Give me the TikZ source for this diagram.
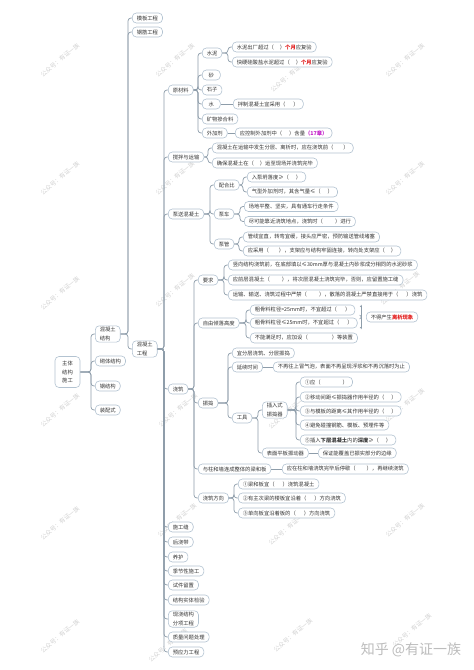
\documentclass[tikz,border=0pt]{standalone}
\usepackage{fontspec}
\setmainfont{Noto Sans CJK SC}
\usetikzlibrary{decorations.pathreplacing}
\definecolor{lineC}{HTML}{8E9DAA}
\definecolor{boxC}{HTML}{B3C3D1}
\definecolor{txtC}{HTML}{333333}
\definecolor{redC}{HTML}{E21C1C}
\definecolor{magC}{HTML}{C21BC8}
\definecolor{wmC}{HTML}{D2D2D2}
\newcommand{\gapx}[1][6pt]{\hspace{#1}}
\newcommand{\mlink}[2]{\draw[conn] (#1.east) -| ([xshift=-4pt]#2.west) -- (#2.west);}
\newcommand{\slink}[2]{\draw[conn] (#1.east) -- (#2.west);}
\tikzset{
  box/.style={draw=boxC, line width=0.6pt, fill=white, rounded corners=4pt, inner xsep=4.5pt, inner ysep=1.5pt, minimum height=10pt, minimum width=18pt, text=txtC, font=\fontsize{5.3}{8.5}\selectfont, anchor=west},
  conn/.style={draw=lineC, line width=0.7pt, rounded corners=3pt},
  wm/.style={text=wmC, font=\fontsize{6}{7}\selectfont, rotate=40},
}
\begin{document}
\begin{tikzpicture}[x=1pt,y=-1pt]
\useasboundingbox (0,0) rectangle (474,670);
\fill[white] (0,0) rectangle (474,670);

% watermarks
\foreach \wx/\wy in {60/60,175/60,290/75,405/60,
                     60/178,175/178,405/178,
                     60/293,175/290,400/288,
                     60/410,178/410,288/412,405/405,
                     60/523,177/520,288/528,405/520,
                     60/636,168/645,293/635,412/630}{\node[wm] (wm-\wx-\wy) at (\wx,\wy) {公众号：有证一族};}
\node[text=wmC!90!black, font=\fontsize{14}{16}\selectfont] (zhihu) at (411,650) {知乎 @有证一族};

% level 0/1
\node[box,anchor=center,align=center,minimum width=25pt,minimum height=31pt] (root) at (67.5,372) {主体\\结构\\施工};
\node[box,align=left] (hnjg) at (95,334) {混凝土\\结构};
\node[box] (qt) at (95,361) {砌体结构};
\node[box] (gjg) at (95,386) {钢结构};
\node[box] (zps) at (95,410) {装配式};

\node[box] (mb) at (132,18) {模板工程};
\node[box] (gj) at (132,32) {钢筋工程};
\node[box,align=left] (hngc) at (132,349) {混凝土\\工程};

\node[box] (ycl) at (168,90) {原材料};
\node[box] (jb) at (168,157) {搅拌与运输};
\node[box] (bs) at (168,214) {泵送混凝土};
\node[box] (jz) at (168,389) {浇筑};
\node[box] (sgf) at (168,527) {施工缝};
\node[box] (hjd) at (168,542) {后浇带};
\node[box] (yh) at (168,557) {养护};
\node[box] (jjx) at (168,571) {季节性施工};
\node[box] (sjlz) at (168,585) {试件留置};
\node[box] (jgst) at (168,600) {结构实体检验};
\node[box,align=left] (xjjg) at (168,619) {现浇结构\\分项工程};
\node[box] (zlwt) at (168,637) {质量问题处理};
\node[box] (yyl) at (168,652) {预应力工程};

% 原材料
\node[box] (sn) at (202,53) {水泥};
\node[box] (sha) at (202,75) {砂};
\node[box] (sz) at (202,90) {石子};
\node[box] (shui) at (202,104) {水};
\node[box] (kw) at (202,119) {矿物掺合料};
\node[box] (wjj) at (202,133) {外加剂};
\node[box] (sn1) at (232,47) {水泥出厂超过（\gapx）\textcolor{redC}{\textbf{个月}}应复验};
\node[box] (sn2) at (232,62) {快硬硅酸盐水泥超过（\gapx）\textcolor{redC}{\textbf{个月}}应复验};
\node[box] (shui1) at (233,104) {拌制混凝土宜采用（\gapx[8pt]）};
\node[box] (wjj1) at (235,133) {应控制外加剂中（\gapx[7pt]）含量\textcolor{magC}{\textbf{（17章）}}};

% 搅拌与运输
\node[box] (jb1) at (212,148) {混凝土在运输中发生分层、离析时，应在浇筑前（\gapx[10pt]）};
\node[box] (jb2) at (212,163) {确保混凝土在（\gapx）运至现场并浇筑完毕};

% 泵送混凝土
\node[box] (phb) at (214,185) {配合比};
\node[box] (bc) at (214,214) {泵车};
\node[box] (bg) at (214,244) {泵管};
\node[box] (phb1) at (247,177) {入泵坍落度≥（\gapx[7pt]）};
\node[box] (phb2) at (247,192) {气型外加剂时，其含气量≤（\gapx[7pt]）};
\node[box] (bc1) at (244,206.5) {场地平整、坚实，具有通车行走条件};
\node[box] (bc2) at (244,221.5) {尽可能靠近浇筑地点，浇筑时（\gapx[12pt]）进行};
\node[box] (bg1) at (243,237) {管线宜直，转弯宜缓，接头应严密，预防输送管线堵塞};
\node[box] (bg2) at (243,251) {应采用（\gapx[10pt]），支架应与结构牢固连接，转向处支架应（\gapx）};

% 浇筑
\node[box] (yq) at (198,280) {要求};
\node[box] (zy) at (198,323) {自由倾落高度};
\node[box] (zd) at (198,403) {振捣};
\node[box] (yzh) at (198,469) {与柱和墙连成整体的梁和板};
\node[box] (jzfx) at (198,498) {浇筑方向};

\node[box] (yq1) at (228,265) {竖向结构浇筑前，在底部填以≤30mm厚与混凝土内砂浆成分相同的水泥砂浆};
\node[box] (yq2) at (228,280) {应前层混凝土（\gapx[12pt]），将次层混凝土浇筑完毕，否则，应留置施工缝};
\node[box] (yq3) at (228,295) {运输、输送、浇筑过程中严禁（\gapx[12pt]），散落的混凝土严禁直接用于（\gapx[8pt]）浇筑};

\node[box] (zy1) at (250,310) {粗骨料粒径>25mm时，不宜超过（\gapx[8pt]）};
\node[box] (zy2) at (250,323) {粗骨料粒径≤25mm时，不宜超过（\gapx[8pt]）};
\node[box] (zy3) at (250,338) {不能满足时，应加设（\gapx[24pt]）等装置};
\coordinate (brT) at (360,306);
\coordinate (brB) at (360,328);
\draw[conn, decorate, decoration={brace,amplitude=3pt}] (brT) -- (brB);
\node[box] (lx) at (366,317) {不得产生\textcolor{redC}{\textbf{离析现象}}};

\node[box] (zd1) at (232,353) {宜分层浇筑、分层振捣};
\node[box] (zd2) at (232,367) {延续时间};
\node[box] (zd3) at (232,418) {工具};
\node[box] (zd2a) at (273,367) {不再往上冒气泡，表面不再呈现浮浆和不再沉落时为止};
\node[box,align=left] (crs) at (262,410) {插入式\\振捣器};
\node[box] (bmpb) at (262,453) {表面平板振动器};
\node[box] (crs1) at (300,382) {①应（\gapx[22pt]）};
\node[box] (crs2) at (300,397) {②移动间距≤振捣器作用半径的（\gapx[7pt]）};
\node[box] (crs3) at (300,411) {③与模板的距离≤其作用半径的（\gapx[7pt]）};
\node[box] (crs4) at (300,425) {④避免碰撞钢筋、模板、预埋件等};
\node[box] (crs5) at (300,440) {⑤插入\textbf{下层混凝土}内的\textbf{深度}≥（\gapx[7pt]）};
\node[box] (bmpb1) at (318,453) {保证能覆盖已振实部分的边缘};

\node[box] (yzh1) at (282,469) {应在柱和墙浇筑完毕后停歇（\gapx[11pt]），再继续浇筑};

\node[box] (fx1) at (238,484) {①梁和板宜（\gapx[8pt]）浇筑混凝土};
\node[box] (fx2) at (238,498) {②有主次梁的楼板宜沿着（\gapx[8pt]）方向浇筑};
\node[box] (fx3) at (238,513) {③单向板宜沿着板的（\gapx[8pt]）方向浇筑};

% connectors
\foreach \c in {hnjg,qt,gjg,zps}{\mlink{root}{\c}}
\foreach \c in {mb,gj,hngc}{\mlink{hnjg}{\c}}
\foreach \c in {ycl,jb,bs,jz,sgf,hjd,yh,jjx,sjlz,jgst,xjjg,zlwt,yyl}{\mlink{hngc}{\c}}
\foreach \c in {sn,sha,sz,shui,kw,wjj}{\mlink{ycl}{\c}}
\foreach \c in {sn1,sn2}{\mlink{sn}{\c}}
\slink{shui}{shui1}
\slink{wjj}{wjj1}
\foreach \c in {jb1,jb2}{\mlink{jb}{\c}}
\foreach \c in {phb,bc,bg}{\mlink{bs}{\c}}
\foreach \c in {phb1,phb2}{\mlink{phb}{\c}}
\foreach \c in {bc1,bc2}{\mlink{bc}{\c}}
\foreach \c in {bg1,bg2}{\mlink{bg}{\c}}
\foreach \c in {yq,zy,zd,yzh,jzfx}{\mlink{jz}{\c}}
\foreach \c in {yq1,yq2,yq3}{\mlink{yq}{\c}}
\foreach \c in {zy1,zy2,zy3}{\mlink{zy}{\c}}
\foreach \c in {zd1,zd2,zd3}{\mlink{zd}{\c}}
\slink{zd2}{zd2a}
\foreach \c in {crs,bmpb}{\mlink{zd3}{\c}}
\foreach \c in {crs1,crs2,crs3,crs4,crs5}{\mlink{crs}{\c}}
\slink{bmpb}{bmpb1}
\slink{yzh}{yzh1}
\foreach \c in {fx1,fx2,fx3}{\mlink{jzfx}{\c}}
\end{tikzpicture}
\end{document}
